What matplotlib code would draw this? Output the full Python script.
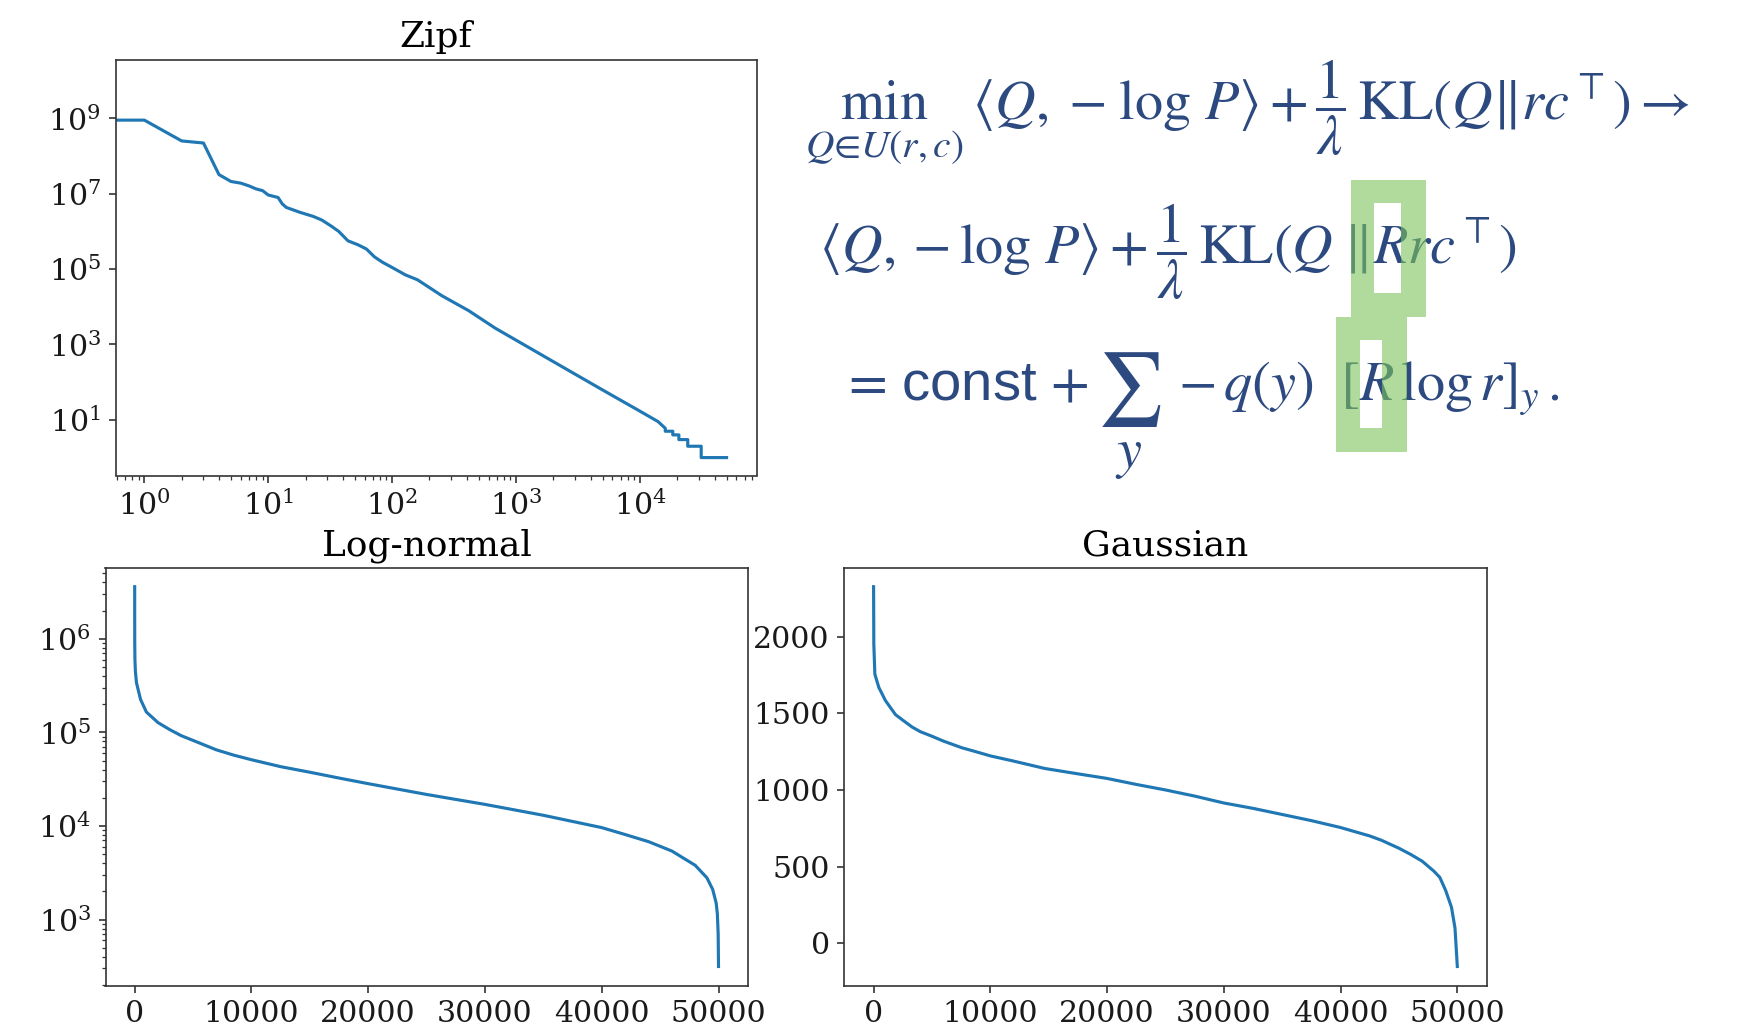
import matplotlib
matplotlib.use("Agg")
import matplotlib.pyplot as plt
from matplotlib.patches import Rectangle
from matplotlib.ticker import NullLocator

plt.rcParams["font.family"] = ["DejaVu Serif"]
plt.rcParams["mathtext.fontset"] = "dejavuserif"
plt.rcParams["font.size"] = 14.4
plt.rcParams["axes.edgecolor"] = "0.2"
plt.rcParams["xtick.color"] = "0.2"
plt.rcParams["ytick.color"] = "0.2"
plt.rcParams["xtick.labelcolor"] = "0.1"
plt.rcParams["ytick.labelcolor"] = "0.1"

W, H = 1742, 1030
DPI = 150

# Zipf: sorted counts by rank (log-log)
zipf_rank = [0, 1, 2, 3, 4, 5, 6, 7, 8, 9, 10, 12, 13, 14, 18, 23, 27, 32, 37, 44,
             53, 62, 72, 84, 100, 128, 160, 252, 414, 680, 1000, 2000, 5000, 10000,
             14000, 16000, 16001, 18400, 18401, 20600, 20601, 24300, 24301, 31200, 31201, 50000]
zipf_count = [8.9e8, 8.9e8, 2.5e8, 2.2e8, 3.2e7, 2.1e7, 1.9e7, 1.6e7, 1.33e7, 1.2e7,
              9.2e6, 7.9e6, 5.3e6, 4.3e6, 3.2e6, 2.5e6, 2.0e6, 1.4e6, 1.0e6, 5.6e5,
              4.4e5, 3.4e5, 2.1e5, 1.5e5, 1.1e5, 7.0e4, 5.2e4, 1.96e4, 7.9e3, 2.7e3,
              1.3e3, 350, 62, 17, 9, 6, 5, 5, 4, 4, 3, 3, 2, 2, 1, 1]

# Log-normal: sorted samples (semilog y)
logn_idx = [0, 1, 5, 20, 60, 150, 500, 1000, 2000, 3000, 4000, 5000, 6000, 7000,
            8500, 10000, 12500, 15000, 17500, 20000, 25000, 30000, 35000, 40000,
            42000, 44000, 46000, 48000, 49000, 49500, 49800, 49900, 49970, 49999]
logn_val = [3.6e6, 1.6e6, 9e5, 6e5, 4.5e5, 3.4e5, 2.25e5, 1.65e5, 1.27e5, 1.07e5,
            9.2e4, 8.2e4, 7.3e4, 6.5e4, 5.7e4, 5.1e4, 4.3e4, 3.75e4, 3.25e4, 2.83e4,
            2.17e4, 1.7e4, 1.3e4, 9.6e3, 8.1e3, 6.8e3, 5.4e3, 3.8e3, 2.8e3, 2.1e3,
            1.5e3, 1.15e3, 700, 315]

# Gaussian: sorted samples (linear)
gauss_idx = [0, 20, 110, 450, 1020, 1875, 2500, 3300, 4000, 5000, 6000, 7560, 8500,
             10000, 12000, 14660, 17500, 20000, 22500, 25000, 27500, 30000, 32500,
             35000, 37500, 40000, 42500, 43500, 45000, 46000, 47000, 48000, 48500,
             49000, 49500, 49800, 49999]
gauss_val = [2325, 1950, 1754, 1668, 1582, 1491, 1455, 1410, 1380, 1350, 1318, 1275,
             1255, 1222, 1188, 1140, 1105, 1075, 1036, 1000, 960, 915, 880, 840, 800,
             755, 700, 672, 620, 580, 535, 470, 430, 345, 235, 100, -151]

EQ_COLOR = "#2c4a80"
GREEN = "#7cc35a"


def px_axes(fig, left, top, right, bottom):
    return fig.add_axes([left / W, 1 - bottom / H, (right - left) / W, (bottom - top) / H])


def fig_xy(x, y):
    return x / W, 1 - y / H


fig = plt.figure(figsize=(W / DPI, H / DPI), dpi=DPI)

ax_zipf = px_axes(fig, 115.5, 60, 757, 475.5)
ax_zipf.loglog(zipf_rank, zipf_count, color="#1f77b4", lw=1.5)
ax_zipf.set_xlim(0.585, 8.8e4)
ax_zipf.set_ylim(0.335, 3.5e10)
ax_zipf.set_yticks([1e1, 1e3, 1e5, 1e7, 1e9])
ax_zipf.yaxis.set_minor_locator(NullLocator())
ax_zipf.set_title("Zipf")

ax_logn = px_axes(fig, 105.5, 567.7, 747.7, 985.5)
ax_logn.semilogy(logn_idx, logn_val, color="#1f77b4", lw=1.5)
ax_logn.set_xticks([0, 10000, 20000, 30000, 40000, 50000])
ax_logn.set_title("Log-normal")

ax_gauss = px_axes(fig, 844.4, 567.7, 1486.5, 985.5)
ax_gauss.plot(gauss_idx, gauss_val, color="#1f77b4", lw=1.5)
ax_gauss.set_xticks([0, 10000, 20000, 30000, 40000, 50000])
ax_gauss.set_title("Gaussian")

# equations
FS = 27
eq_kw = dict(color=EQ_COLOR, math_fontfamily="stix", fontsize=FS, va="baseline", ha="left")
fig.text(*fig_xy(805, 120),
         r"$\min_{Q\in U(r,c)}\:\langle Q,\;-\;\log\,P\rangle+\dfrac{1}{\lambda}\,\mathrm{KL}(Q\|rc^{\top})\rightarrow$",
         **eq_kw)
fig.text(*fig_xy(819, 264),
         r"$\langle Q,-\log\,P\rangle+\dfrac{1}{\lambda}\,\mathrm{KL}(Q\;\|Rrc^{\top})$",
         **eq_kw)
fig.text(*fig_xy(840, 400), r"$=\,$const$\,+$", family="Liberation Sans", **eq_kw)
fig.text(*fig_xy(1129, 408), r"$\sum$", color=EQ_COLOR, math_fontfamily="stix",
         fontsize=35, va="baseline", ha="center")
fig.text(*fig_xy(1129, 467), r"$y$", color=EQ_COLOR, math_fontfamily="stix",
         fontsize=FS, va="baseline", ha="center")
fig.text(*fig_xy(1178, 400), r"$-\,q(y)\ \ [R\,\log r]_{y}\,.$", **eq_kw)

# highlight frames (green ring with white hole)
for (ol, ot, orr, ob), (il, it, ir, ib) in [
    ((1351, 180, 1426, 317), (1374, 203, 1401, 293)),
    ((1336, 317, 1407, 452), (1360, 340, 1382, 428)),
]:
    strips = [
        (ol, ot, orr, it),
        (ol, ib, orr, ob),
        (ol, it, il, ib),
        (ir, it, orr, ib),
    ]
    for l, t, r, b in strips:
        x0, y0 = fig_xy(l, b)
        fig.add_artist(Rectangle((x0, y0), (r - l) / W, (b - t) / H,
                                 transform=fig.transFigure, facecolor=GREEN,
                                 edgecolor="none", alpha=0.6, zorder=5))

fig.savefig("out.png", dpi=DPI)
